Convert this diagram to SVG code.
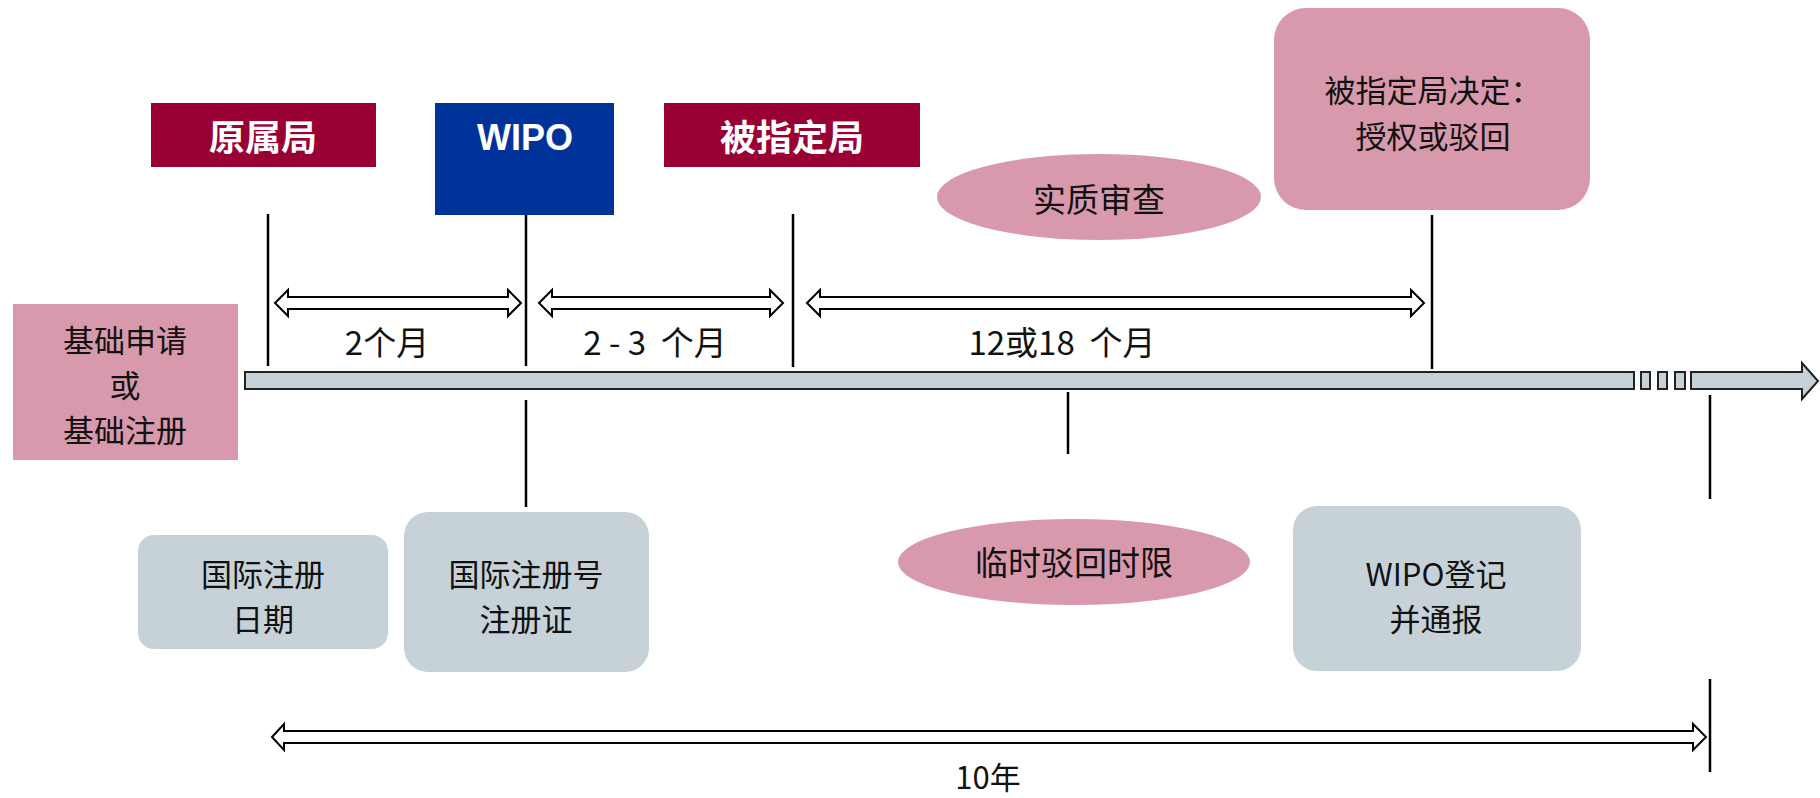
<svg xmlns="http://www.w3.org/2000/svg" width="1820" height="798" viewBox="0 0 1820 798">
<style>
.t{font-family:"Noto Sans CJK SC","Liberation Sans",sans-serif;font-size:33px;fill:#111;text-anchor:middle;dominant-baseline:central}
.m{font-size:31px}
.h{font-family:"Liberation Sans","Noto Sans CJK SC",sans-serif;font-size:36px;font-weight:bold;fill:#fff;text-anchor:middle;dominant-baseline:central}
.hc{font-family:"Noto Sans CJK SC",sans-serif;font-weight:bold}
.pink{fill:#D899AD}
.gray{fill:#C7D1D8}
.ln{stroke:#000;stroke-width:2.5;fill:none}
.da{fill:#fff;stroke:#000;stroke-width:2}
.bar{fill:#C7D1D8;stroke:#222;stroke-width:2}
</style>
<rect width="1820" height="798" fill="#fff"/>
<g id="connectors">
<line class="ln" x1="268" y1="214" x2="268" y2="366"/>
<line class="ln" x1="526" y1="215" x2="526" y2="366"/>
<line class="ln" x1="526" y1="400" x2="526" y2="507"/>
<line class="ln" x1="793" y1="214" x2="793" y2="367"/>
<line class="ln" x1="1068" y1="392" x2="1068" y2="454"/>
<line class="ln" x1="1432" y1="215" x2="1432" y2="369"/>
<line class="ln" x1="1710" y1="395" x2="1710" y2="499"/>
<line class="ln" x1="1710" y1="679" x2="1710" y2="772"/>
<path class="da" d="M275,303 L288,290 L288,297 L508,297 L508,290 L521,303 L508,316 L508,309 L288,309 L288,316 Z"/>
<path class="da" d="M539,303 L552,290 L552,297 L770,297 L770,290 L783,303 L770,316 L770,309 L552,309 L552,316 Z"/>
<path class="da" d="M807,303 L820,290 L820,297 L1411,297 L1411,290 L1424,303 L1411,316 L1411,309 L820,309 L820,316 Z"/>
<path class="da" d="M272,737 L284,724 L284,731 L1693,731 L1693,724 L1706,737 L1693,750 L1693,743 L284,743 L284,750 Z"/>
<rect class="bar" x="245" y="372" width="1389" height="17"/>
<rect class="bar" x="1641" y="372" width="9" height="17"/>
<rect class="bar" x="1658" y="372" width="9" height="17"/>
<rect class="bar" x="1675" y="372" width="10" height="17"/>
<path class="bar" d="M1691,372 H1802 V363 L1818,381 L1802,399 V389 H1691 Z"/>
<text class="t" x="387" y="341">2个月</text>
<text class="t" x="655" y="341">2&#160;-&#160;3&#160;&#160;个月</text>
<text class="t" x="1062" y="341">12或18&#160;&#160;个月</text>
<text class="t m" x="988" y="775">10年</text>
</g>
<g id="n-yuanshu"><rect x="151" y="103" width="225" height="64" fill="#990033"/><text class="h hc" x="263" y="135">原属局</text></g>
<g id="n-wipo"><rect x="435" y="103" width="179" height="112" fill="#003399"/><text class="h" x="525" y="137">WIPO</text></g>
<g id="n-beizhiding"><rect x="664" y="103" width="256" height="64" fill="#990033"/><text class="h hc" x="792" y="135">被指定局</text></g>
<g id="n-decision"><rect class="pink" x="1274" y="8" width="316" height="202" rx="32"/><text class="t m" x="1433" y="88">被指定局决定：</text><text class="t m" x="1433" y="134">授权或驳回</text></g>
<g id="n-exam"><ellipse class="pink" cx="1099" cy="197" rx="162" ry="43"/><text class="t" x="1099" y="198">实质审查</text></g>
<g id="n-basic"><rect class="pink" x="13" y="304" width="225" height="156"/><text class="t m" x="125" y="338">基础申请</text><text class="t m" x="125" y="383">或</text><text class="t m" x="125" y="428">基础注册</text></g>
<g id="n-date"><rect class="gray" x="138" y="535" width="250" height="114" rx="16"/><text class="t m" x="263" y="572">国际注册</text><text class="t m" x="263" y="617">日期</text></g>
<g id="n-number"><rect class="gray" x="404" y="512" width="245" height="160" rx="24"/><text class="t m" x="526" y="572">国际注册号</text><text class="t m" x="526" y="617">注册证</text></g>
<g id="n-refusal"><ellipse class="pink" cx="1074" cy="562" rx="176" ry="43"/><text class="t" x="1074" y="561">临时驳回时限</text></g>
<g id="n-record"><rect class="gray" x="1293" y="506" width="288" height="165" rx="24"/><text class="t m" x="1436" y="572">WIPO登记</text><text class="t m" x="1436" y="617">并通报</text></g>
</svg>
